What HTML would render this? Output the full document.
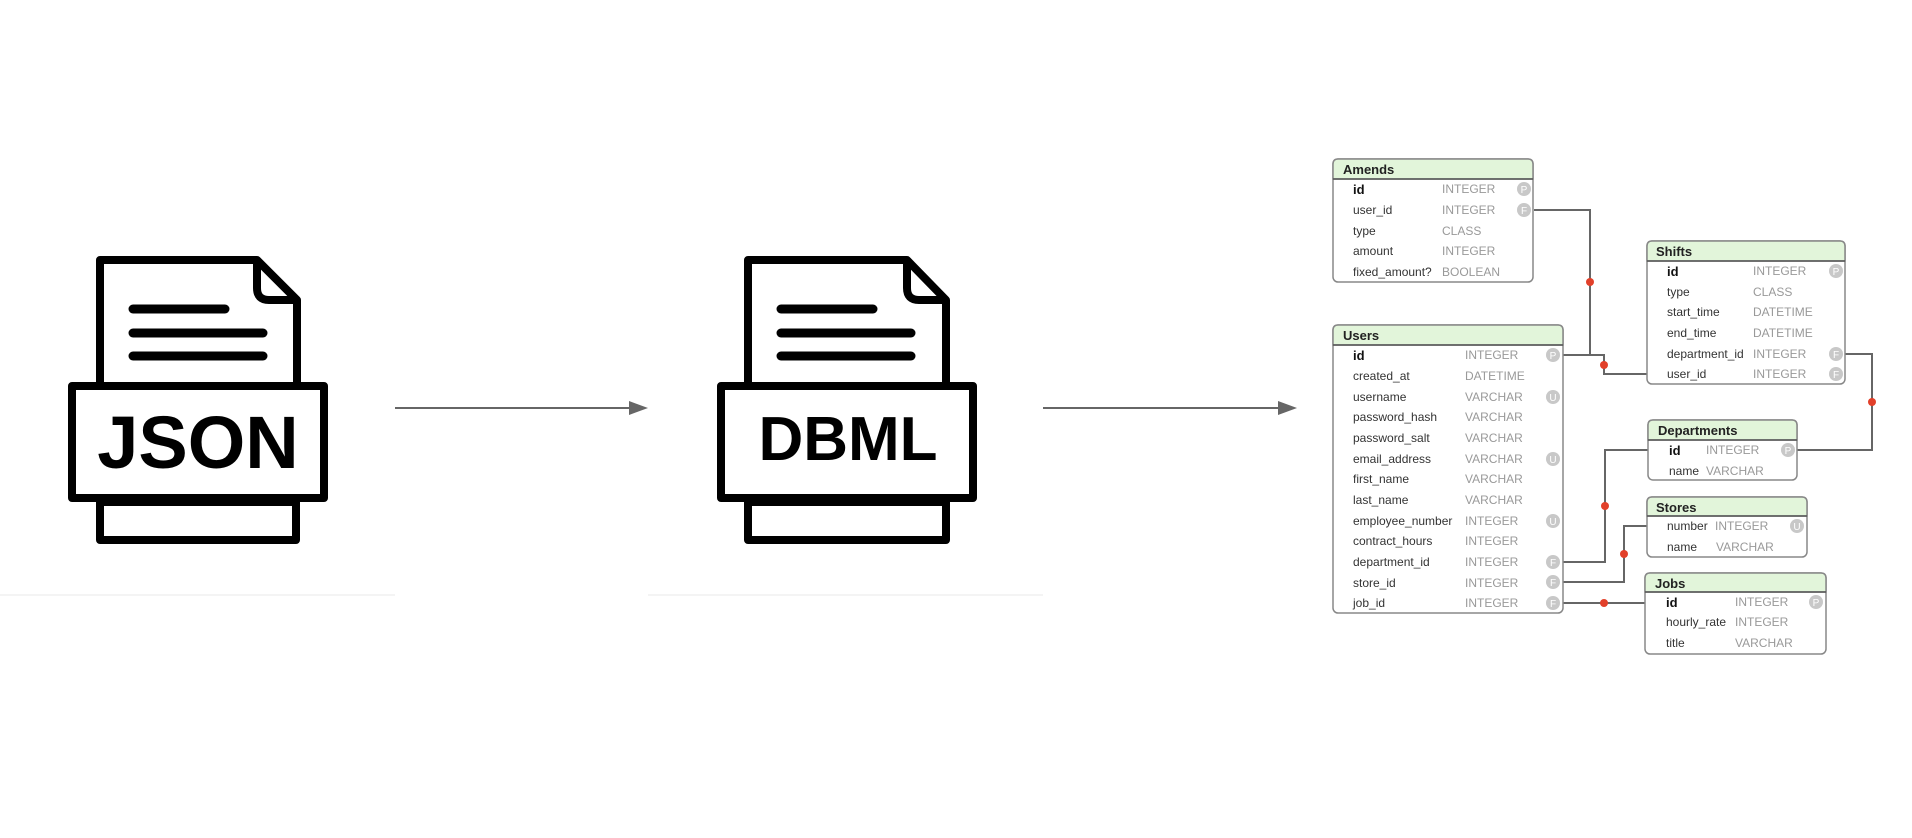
<!DOCTYPE html>
<html><head><meta charset="utf-8"><style>
html,body{margin:0;padding:0;background:#fff;width:1912px;height:838px;overflow:hidden}
svg text{font-family:"Liberation Sans",Arial,sans-serif}
.n{font-size:12px;fill:#333}
.b{font-size:13px;font-weight:bold;fill:#111}
.t{font-size:12px;fill:#999}
.h{font-size:13px;font-weight:bold;fill:#222}
.ic{fill:#c8c8c8}
.il{font-size:10px;fill:#fff;text-anchor:middle}
.c{stroke:#666;stroke-width:2;fill:none}
.d{fill:#e2402a}
</style></head><body>
<svg width="1912" height="838" viewBox="0 0 1912 838" xmlns="http://www.w3.org/2000/svg">
<line x1="0" y1="595" x2="395" y2="595" stroke="#f4f4f4" stroke-width="2"/>
<line x1="648" y1="595" x2="1043" y2="595" stroke="#f4f4f4" stroke-width="2"/>

<g stroke="#000" stroke-width="8" fill="#fff" stroke-linejoin="round">
<path d="M100,260 H257 L297,300 V386 H100 Z"/>
<path d="M257,260 V288 Q257,300 269,300 H297" fill="none"/>
<rect x="72" y="386" width="252" height="112"/>
<rect x="100" y="502" width="196" height="38"/>
</g>
<g stroke="#000" stroke-width="9" stroke-linecap="round">
<line x1="133" y1="309" x2="225" y2="309"/>
<line x1="133" y1="333" x2="263" y2="333"/>
<line x1="133" y1="356" x2="263" y2="356"/>
</g>
<text x="198" y="468" text-anchor="middle" style="font-size:74px;font-weight:bold;fill:#000">JSON</text>

<g stroke="#000" stroke-width="8" fill="#fff" stroke-linejoin="round">
<path d="M748,260 H907 L946,300 V386 H748 Z"/>
<path d="M907,260 V288 Q907,300 919,300 H946" fill="none"/>
<rect x="721" y="386" width="252" height="112"/>
<rect x="748" y="502" width="198" height="38"/>
</g>
<g stroke="#000" stroke-width="9" stroke-linecap="round">
<line x1="781" y1="309" x2="873" y2="309"/>
<line x1="781" y1="333" x2="911" y2="333"/>
<line x1="781" y1="356" x2="911" y2="356"/>
</g>
<text x="848" y="460" text-anchor="middle" style="font-size:62px;font-weight:bold;fill:#000">DBML</text>

<line x1="395" y1="408" x2="632" y2="408" stroke="#666" stroke-width="2"/>
<path d="M629,401 L648,408 L629,415z" fill="#666"/>
<line x1="1043" y1="408" x2="1280" y2="408" stroke="#666" stroke-width="2"/>
<path d="M1278,401 L1297,408 L1278,415z" fill="#666"/>

<path class="c" d="M1534,210 H1590 V355"/>
<path class="c" d="M1563,355 H1604 V374 H1647"/>
<path class="c" d="M1845,354 H1872 V450 H1797"/>
<path class="c" d="M1563,562 H1605 V450 H1648"/>
<path class="c" d="M1563,582 H1624 V526 H1647"/>
<path class="c" d="M1563,603 H1645"/>
<circle class="d" cx="1590" cy="282" r="4"/>
<circle class="d" cx="1604" cy="365" r="4"/>
<circle class="d" cx="1872" cy="402" r="4"/>
<circle class="d" cx="1605" cy="506" r="4"/>
<circle class="d" cx="1624" cy="554" r="4"/>
<circle class="d" cx="1604" cy="603" r="4"/>

<g>
<rect x="1333" y="159" width="200" height="123" rx="5" fill="#fff" stroke="#888" stroke-width="1.5"/>
<path d="M1333,179 V164 Q1333,159 1338,159 H1528 Q1533,159 1533,164 V179 Z" fill="#e2f5da" stroke="#888" stroke-width="1.5"/>
<line x1="1333" y1="179" x2="1533" y2="179" stroke="#555" stroke-width="1.5"/>
<text class="h" x="1343" y="174">Amends</text>
<text class="b" x="1353" y="194">id</text><text class="t" x="1442" y="193">INTEGER</text><circle class="ic" cx="1524" cy="189" r="7"/><text class="il" x="1524" y="193">P</text>
<text class="n" x="1353" y="214">user_id</text><text class="t" x="1442" y="214">INTEGER</text><circle class="ic" cx="1524" cy="210" r="7"/><text class="il" x="1524" y="214">F</text>
<text class="n" x="1353" y="235">type</text><text class="t" x="1442" y="235">CLASS</text>
<text class="n" x="1353" y="255">amount</text><text class="t" x="1442" y="255">INTEGER</text>
<text class="n" x="1353" y="276">fixed_amount?</text><text class="t" x="1442" y="276">BOOLEAN</text>
</g>

<g>
<rect x="1333" y="325" width="230" height="288" rx="5" fill="#fff" stroke="#888" stroke-width="1.5"/>
<path d="M1333,345 V330 Q1333,325 1338,325 H1558 Q1563,325 1563,330 V345 Z" fill="#e2f5da" stroke="#888" stroke-width="1.5"/>
<line x1="1333" y1="345" x2="1563" y2="345" stroke="#555" stroke-width="1.5"/>
<text class="h" x="1343" y="340">Users</text>
<text class="b" x="1353" y="360">id</text><text class="t" x="1465" y="359">INTEGER</text><circle class="ic" cx="1553" cy="355" r="7"/><text class="il" x="1553" y="359">P</text>
<text class="n" x="1353" y="380">created_at</text><text class="t" x="1465" y="380">DATETIME</text>
<text class="n" x="1353" y="401">username</text><text class="t" x="1465" y="401">VARCHAR</text><circle class="ic" cx="1553" cy="397" r="7"/><text class="il" x="1553" y="401">U</text>
<text class="n" x="1353" y="421">password_hash</text><text class="t" x="1465" y="421">VARCHAR</text>
<text class="n" x="1353" y="442">password_salt</text><text class="t" x="1465" y="442">VARCHAR</text>
<text class="n" x="1353" y="463">email_address</text><text class="t" x="1465" y="463">VARCHAR</text><circle class="ic" cx="1553" cy="459" r="7"/><text class="il" x="1553" y="463">U</text>
<text class="n" x="1353" y="483">first_name</text><text class="t" x="1465" y="483">VARCHAR</text>
<text class="n" x="1353" y="504">last_name</text><text class="t" x="1465" y="504">VARCHAR</text>
<text class="n" x="1353" y="525">employee_number</text><text class="t" x="1465" y="525">INTEGER</text><circle class="ic" cx="1553" cy="521" r="7"/><text class="il" x="1553" y="525">U</text>
<text class="n" x="1353" y="545">contract_hours</text><text class="t" x="1465" y="545">INTEGER</text>
<text class="n" x="1353" y="566">department_id</text><text class="t" x="1465" y="566">INTEGER</text><circle class="ic" cx="1553" cy="562" r="7"/><text class="il" x="1553" y="566">F</text>
<text class="n" x="1353" y="587">store_id</text><text class="t" x="1465" y="587">INTEGER</text><circle class="ic" cx="1553" cy="582" r="7"/><text class="il" x="1553" y="586">F</text>
<text class="n" x="1353" y="607">job_id</text><text class="t" x="1465" y="607">INTEGER</text><circle class="ic" cx="1553" cy="603" r="7"/><text class="il" x="1553" y="607">F</text>
</g>

<g>
<rect x="1647" y="241" width="198" height="143" rx="5" fill="#fff" stroke="#888" stroke-width="1.5"/>
<path d="M1647,261 V246 Q1647,241 1652,241 H1840 Q1845,241 1845,246 V261 Z" fill="#e2f5da" stroke="#888" stroke-width="1.5"/>
<line x1="1647" y1="261" x2="1845" y2="261" stroke="#555" stroke-width="1.5"/>
<text class="h" x="1656" y="256">Shifts</text>
<text class="b" x="1667" y="276">id</text><text class="t" x="1753" y="275">INTEGER</text><circle class="ic" cx="1836" cy="271" r="7"/><text class="il" x="1836" y="275">P</text>
<text class="n" x="1667" y="296">type</text><text class="t" x="1753" y="296">CLASS</text>
<text class="n" x="1667" y="316">start_time</text><text class="t" x="1753" y="316">DATETIME</text>
<text class="n" x="1667" y="337">end_time</text><text class="t" x="1753" y="337">DATETIME</text>
<text class="n" x="1667" y="358">department_id</text><text class="t" x="1753" y="358">INTEGER</text><circle class="ic" cx="1836" cy="354" r="7"/><text class="il" x="1836" y="358">F</text>
<text class="n" x="1667" y="378">user_id</text><text class="t" x="1753" y="378">INTEGER</text><circle class="ic" cx="1836" cy="374" r="7"/><text class="il" x="1836" y="378">F</text>
</g>

<g>
<rect x="1648" y="420" width="149" height="60" rx="5" fill="#fff" stroke="#888" stroke-width="1.5"/>
<path d="M1648,440 V425 Q1648,420 1653,420 H1792 Q1797,420 1797,425 V440 Z" fill="#e2f5da" stroke="#888" stroke-width="1.5"/>
<line x1="1648" y1="440" x2="1797" y2="440" stroke="#555" stroke-width="1.5"/>
<text class="h" x="1658" y="435">Departments</text>
<text class="b" x="1669" y="455">id</text><text class="t" x="1706" y="454">INTEGER</text><circle class="ic" cx="1788" cy="450" r="7"/><text class="il" x="1788" y="454">P</text>
<text class="n" x="1669" y="475">name</text><text class="t" x="1706" y="475">VARCHAR</text>
</g>

<g>
<rect x="1647" y="497" width="160" height="60" rx="5" fill="#fff" stroke="#888" stroke-width="1.5"/>
<path d="M1647,516 V502 Q1647,497 1652,497 H1802 Q1807,497 1807,502 V516 Z" fill="#e2f5da" stroke="#888" stroke-width="1.5"/>
<line x1="1647" y1="516" x2="1807" y2="516" stroke="#555" stroke-width="1.5"/>
<text class="h" x="1656" y="512">Stores</text>
<text class="n" x="1667" y="530">number</text><text class="t" x="1715" y="530">INTEGER</text><circle class="ic" cx="1797" cy="526" r="7"/><text class="il" x="1797" y="530">U</text>
<text class="n" x="1667" y="551">name</text><text class="t" x="1716" y="551">VARCHAR</text>
</g>

<g>
<rect x="1645" y="573" width="181" height="81" rx="5" fill="#fff" stroke="#888" stroke-width="1.5"/>
<path d="M1645,592 V578 Q1645,573 1650,573 H1821 Q1826,573 1826,578 V592 Z" fill="#e2f5da" stroke="#888" stroke-width="1.5"/>
<line x1="1645" y1="592" x2="1826" y2="592" stroke="#555" stroke-width="1.5"/>
<text class="h" x="1655" y="588">Jobs</text>
<text class="b" x="1666" y="607">id</text><text class="t" x="1735" y="606">INTEGER</text><circle class="ic" cx="1816" cy="602" r="7"/><text class="il" x="1816" y="606">P</text>
<text class="n" x="1666" y="626">hourly_rate</text><text class="t" x="1735" y="626">INTEGER</text>
<text class="n" x="1666" y="647">title</text><text class="t" x="1735" y="647">VARCHAR</text>
</g>
</svg>
</body></html>
